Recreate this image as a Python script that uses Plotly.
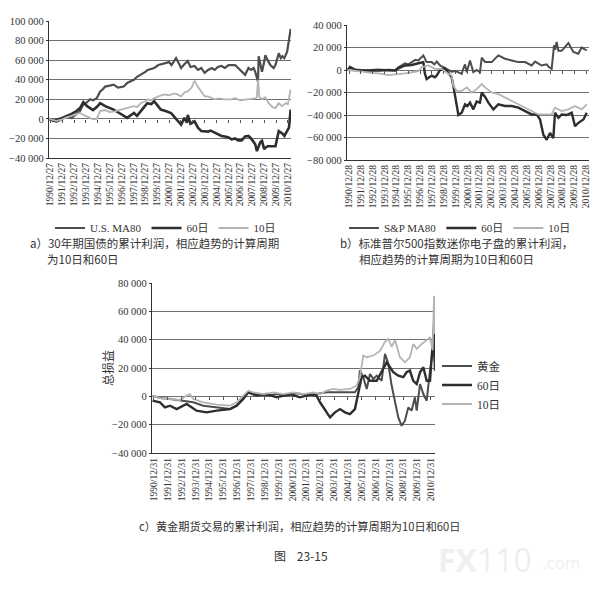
import plotly.graph_objects as go

# ---- panel a: 30-year T-bond, cumulative profit ----
a_ma80_x = [1990.89, 1991.2, 1991.51, 1991.9, 1992.36, 1992.8, 1993.2, 1993.5, 1993.78, 1994.1, 1994.35, 1994.6,
            1994.91, 1995.2, 1995.4, 1995.62, 1996.0, 1996.33, 1996.7, 1997.18, 1997.5, 1998.04, 1998.3, 1998.6,
            1999.0, 1999.2, 1999.74, 2000.1, 2000.59, 2001.0, 2001.2, 2001.58, 2001.8, 2002.01, 2002.3, 2002.57,
            2002.8, 2003.14, 2003.43, 2003.71, 2003.99, 2004.28, 2004.6, 2004.84, 2005.1, 2005.41, 2005.7, 2006.0,
            2006.55, 2006.8, 2007.11, 2007.4, 2007.68, 2007.9, 2008.11, 2008.25, 2008.39, 2008.48, 2008.54, 2008.67,
            2008.82, 2009.0, 2009.1, 2009.3, 2009.52, 2009.8, 2009.95, 2010.23, 2010.4, 2010.53, 2010.7, 2010.94,
            2011.09, 2011.23]
a_ma80_y = [0, -1500, -3000, -1000, 3000, 1000, 5000, 8000, 15000, 17000, 20000, 19000,
            21000, 28000, 30000, 33000, 34000, 35000, 32000, 33000, 37000, 40000, 43000, 45000,
            48000, 50000, 52000, 55000, 57000, 58000, 55000, 62000, 57000, 52000, 56000, 59000,
            53000, 54000, 50000, 52000, 47000, 50000, 52000, 50000, 53000, 54000, 52000, 55000,
            55000, 52000, 48000, 45000, 52000, 50000, 52000, 48000, 42000, 38000, 64000, 55000,
            48000, 58000, 65000, 60000, 55000, 52000, 55000, 67000, 62000, 64000, 62000, 69000,
            79000, 92000]

a_60_x = [1990.89, 1991.3, 1991.8, 1992.36, 1992.8, 1993.2, 1993.5, 1993.78, 1994.1, 1994.35, 1994.6, 1994.91,
          1995.2, 1995.62, 1996.0, 1996.33, 1996.8, 1997.2, 1997.47, 1997.8, 1998.04, 1998.3, 1998.6, 1998.89,
          1999.17, 1999.5, 1999.74, 2000.02, 2000.3, 2000.7, 2001.16, 2001.44, 2001.72, 2002.01, 2002.29, 2002.5,
          2002.57, 2002.8, 2003.14, 2003.43, 2003.71, 2003.99, 2004.28, 2004.5, 2004.84, 2005.1, 2005.41, 2005.7,
          2006.0, 2006.26, 2006.55, 2006.8, 2007.11, 2007.4, 2007.68, 2007.9, 2008.11, 2008.25, 2008.39, 2008.5,
          2008.67, 2008.82, 2009.0, 2009.1, 2009.3, 2009.6, 2009.95, 2010.23, 2010.4, 2010.53, 2010.7, 2010.94,
          2011.09, 2011.23]
a_60_y = [0, -2000, 0, 3000, 5000, 8000, 11000, 17000, 13000, 11000, 9000, 12000,
          16000, 13000, 11000, 9500, 6000, 3000, 1000, 4000, 6000, 3000, 8000, 12000,
          16000, 15000, 18000, 14000, 9500, 8000, 6000, 2000, -2500, -6000, 1000, -4000,
          4000, -5000, -2500, -9000, -12500, -13000, -13000, -12000, -14000, -15000, -17500, -18000,
          -19000, -21000, -20000, -22000, -22000, -18000, -17500, -20000, -24000, -26000, -33000, -30000,
          -24000, -22500, -31000, -29500, -28000, -28000, -28000, -12500, -14000, -15000, -17500, -12000,
          -9000, 9500]

a_10_x = [1990.89, 1991.5, 1992.0, 1992.36, 1992.8, 1993.2, 1993.5, 1993.78, 1994.1, 1994.35, 1994.6, 1994.91,
          1995.2, 1995.6, 1996.0, 1996.33, 1996.8, 1997.18, 1997.6, 1998.04, 1998.3, 1998.6, 1999.0, 1999.17,
          1999.5, 1999.74, 2000.1, 2000.59, 2001.0, 2001.44, 2001.7, 2002.01, 2002.3, 2002.57, 2002.9, 2003.14,
          2003.4, 2003.71, 2003.99, 2004.28, 2004.6, 2004.84, 2005.2, 2005.7, 2006.2, 2006.55, 2007.0, 2007.68,
          2008.0, 2008.25, 2008.39, 2008.48, 2008.6, 2008.82, 2009.1, 2009.38, 2009.7, 2009.95, 2010.23, 2010.5,
          2010.81, 2011.0, 2011.23]
a_10_y = [0, -2000, -500, 1500, 3000, 5000, 6000, 4000, 2000, 1000, -500, 0,
          8000, 9000, 7000, 7500, 9000, 9500, 11000, 13000, 12000, 16000, 18000, 20000,
          19000, 21000, 23000, 25000, 24000, 26000, 25000, 23000, 27000, 28000, 32000, 39000,
          33000, 28000, 23000, 23000, 21000, 20000, 21000, 20000, 20000, 21000, 19000, 20000,
          21000, 21000, 22000, 40000, 22000, 20000, 22000, 16000, 12000, 11000, 16000, 13000,
          16000, 15000, 30000]

# ---- panel b: S&P 500 e-mini ----
b_ma80_x = [1990.89, 1991.08, 1991.51, 1992.07, 1992.5, 1992.91, 1993.48, 1994.0, 1994.6, 1994.88, 1995.16, 1995.73,
            1996.0, 1996.29, 1996.6, 1996.85, 1997.1, 1997.27, 1997.55, 1997.98, 1998.2, 1998.4, 1998.68, 1999.1,
            1999.38, 1999.66, 2000.0, 2000.23, 2000.51, 2000.6, 2000.79, 2000.93, 2001.21, 2001.49, 2001.77, 2002.05,
            2002.2, 2002.48, 2003.04, 2003.6, 2004.16, 2004.73, 2005.29, 2005.85, 2006.41, 2006.7, 2007.12, 2007.26,
            2007.68, 2007.88, 2008.1, 2008.3, 2008.4, 2008.52, 2008.67, 2008.95, 2009.51, 2009.93, 2010.35, 2010.5,
            2010.63, 2010.78, 2011.06]
b_ma80_y = [0, 3000, 500, 0, -500, 0, 500, 0, 0, -500, 2500, 6000,
            5000, 7000, 9000, 8500, 11000, 13000, 7000, 7000, 5000, 7500, 4000, 1500,
            -500, -1500, -1000, -2000, -3500, 0, 5000, -2000, 8500, -2000, 0, -2000,
            11000, 7000, 7000, 13000, 10000, 8500, 7000, 7000, 4000, 7500, 5000, 4000,
            5000, 2500, 1000, 22000, 18000, 25000, 17000, 17000, 24000, 16000, 14500, 18000,
            20000, 19000, 17500]

b_60_x = [1990.89, 1991.08, 1991.51, 1992.07, 1993.48, 1994.32, 1994.88, 1995.16, 1995.73, 1996.29, 1996.85, 1997.27,
          1997.4, 1997.55, 1997.98, 1998.26, 1998.4, 1998.68, 1999.1, 1999.38, 1999.66, 1999.8, 1999.95, 2000.09,
          2000.23, 2000.51, 2000.79, 2001.0, 2001.21, 2001.49, 2001.77, 2002.05, 2002.2, 2002.48, 2002.76, 2003.18,
          2003.6, 2004.16, 2004.73, 2005.29, 2005.85, 2006.41, 2006.84, 2007.12, 2007.4, 2007.68, 2007.96, 2008.24,
          2008.38, 2008.67, 2008.95, 2009.37, 2009.79, 2010.07, 2010.35, 2010.78, 2011.06]
b_60_y = [0, 2000, 0, -500, -500, 0, -500, 1500, 4000, 4500, 6000, 7000,
          -3000, -8000, -5000, -6500, -5000, 0, 1500, -3000, -6500, -14000, -23000, -35000,
          -40000, -38000, -30500, -32000, -29000, -35000, -28000, -29000, -20000, -24000, -29000, -35000,
          -30500, -32000, -32000, -33500, -36500, -39500, -39500, -44000, -57500, -62000, -56000, -60500,
          -38000, -42500, -39500, -40000, -38000, -50000, -47000, -44000, -38000]

b_10_x = [1990.89, 1991.51, 1992.07, 1992.91, 1993.48, 1994.32, 1994.88, 1995.16, 1995.73, 1996.29, 1996.85, 1997.13,
          1997.69, 1998.26, 1998.82, 1999.38, 1999.66, 1999.8, 2000.09, 2000.51, 2000.93, 2001.35, 2001.77, 2002.2,
          2002.48, 2003.04, 2003.6, 2004.16, 2004.73, 2005.29, 2005.85, 2006.41, 2006.98, 2007.54, 2008.1, 2008.38,
          2008.95, 2009.51, 2010.07, 2010.63, 2011.06]
b_10_y = [0, -1000, -1500, -2500, -3000, -4500, -4000, -3500, -3000, -2000, -1000, 2500,
          4000, 1000, 1000, -3500, -4500, -14000, -18500, -18500, -15500, -20000, -17000, -12500,
          -15500, -20000, -21500, -24500, -27500, -30500, -33500, -36500, -39500, -39500, -39500, -33500,
          -36500, -35000, -32000, -35000, -30500]

# ---- panel c: gold futures ----
c_gold_x = [1990.9, 1991.43, 1992.16, 1993.12, 1993.84, 1994.56, 1995.52, 1996.49, 1996.97, 1997.45, 1997.81, 1998.41,
            1999.13, 1999.86, 2000.58, 2001.3, 2002.02, 2002.74, 2003.47, 2004.19, 2004.91, 2005.51, 2005.75, 2005.87,
            2006.11, 2006.36, 2006.6, 2006.84, 2007.08, 2007.44, 2007.68, 2007.92, 2008.16, 2008.4, 2008.64, 2008.88,
            2009.12, 2009.36, 2009.6, 2009.84, 2009.97, 2010.21, 2010.45, 2010.69, 2010.93, 2011.17, 2011.29]
c_gold_y = [500, -1200, -1900, -3000, -4200, -6600, -7800, -9000, -6600, -700, 2800, 1600,
            500, 1600, 500, 2100, 1200, 1600, 2800, 2800, 2800, 2800, 6400, 18300,
            13500, 5200, 15800, 12300, 14600, 11000, 30000, 23000, 7600, -3100, -14900, -20800,
            -17200, -7800, -10100, -700, -10100, 8700, 1600, -3100, 18200, 34700, 23000]

c_60_x = [1990.9, 1991.43, 1991.79, 1992.16, 1992.64, 1993.36, 1994.08, 1994.8, 1995.52, 1996.49, 1996.97, 1997.45,
          1997.81, 1998.41, 1999.13, 1999.86, 2000.82, 2001.54, 2002.26, 2002.74, 2002.99, 2003.23, 2003.47, 2003.71,
          2004.07, 2004.43, 2004.79, 2005.15, 2005.51, 2005.75, 2005.99, 2006.23, 2006.6, 2007.08, 2007.56, 2007.8,
          2008.04, 2008.28, 2008.64, 2009.0, 2009.24, 2009.48, 2009.72, 2009.97, 2010.21, 2010.45, 2010.69, 2010.93,
          2011.05, 2011.22, 2011.29]
c_60_y = [-3000, -4200, -7800, -6600, -9000, -5400, -10100, -11300, -10100, -9000, -6600, -1900,
          2800, 500, 1600, -700, 1600, -700, 1200, 500, -4200, -7800, -11300, -14900,
          -11300, -9000, -11300, -12500, -9000, 2800, 13500, 14600, 11000, 11000, 19500, 24000,
          20500, 17000, 14600, 13500, 17000, 18200, 11000, 8700, 17000, 20500, 11000, 11000,
          27600, 50000, 18000]

c_10_x = [1990.9, 1991.43, 1992.16, 1992.88, 1993.36, 1993.6, 1993.84, 1994.56, 1995.52, 1996.49, 1996.97, 1997.45,
          1997.81, 1998.17, 1998.89, 1999.62, 2000.34, 2001.06, 2001.78, 2002.5, 2002.99, 2003.47, 2003.95, 2004.43,
          2005.15, 2005.63, 2005.87, 2006.11, 2006.36, 2006.84, 2007.32, 2007.68, 2007.92, 2008.16, 2008.4, 2008.76,
          2009.12, 2009.48, 2009.72, 2009.97, 2010.33, 2010.69, 2010.93, 2011.12, 2011.22, 2011.29]
c_10_y = [500, -1200, -1900, -2600, 500, 1600, -1900, -4200, -5900, -6600, -4200, 500,
          4000, 2800, 1600, 2800, 1600, 2800, 1600, 2800, 1600, 4000, 5200, 4500,
          5200, 7500, 13500, 28800, 27600, 28800, 32000, 38500, 40600, 35000, 39700, 27600,
          24000, 27600, 37000, 33500, 37000, 39700, 41800, 32500, 71000, 44000]

# tick labels, one per year
years = list(range(1990, 2011))
tick_pos = [y + 1.0 for y in years]
ticks_a = [f"{y}/12/27" for y in years]
ticks_b = [f"{y}/12/28" for y in years]
ticks_c = [f"{y}/12/31" for y in years]

SERIF = "Liberation Serif, Times New Roman, serif"
CJK = "Noto Sans CJK SC, Liberation Serif, serif"
MID = "#4d4d4d"
DARK = "#2e2e2e"
LIGHT = "#b4b4b4"
GRID = "#707070"

W, H = 611, 590
OFF = 8  # the page body adds an 8px margin around the figure


def px_x(p):
    return (p - OFF) / W


def px_y(p):
    return 1 - (p - OFF) / H


fig = go.Figure()


def add_lines(xa, ya, legend, series):
    for name, xs, ys, color, width in series:
        fig.add_trace(go.Scatter(x=xs, y=ys, name=name, mode="lines", xaxis=xa, yaxis=ya,
                                 legend=legend, line=dict(color=color, width=width)))


add_lines("x", "y", "legend", [
    ("U.S. MA80", a_ma80_x, a_ma80_y, MID, 2.2),
    ("60日", a_60_x, a_60_y, DARK, 2.6),
    ("10日", a_10_x, a_10_y, LIGHT, 1.8),
])
add_lines("x2", "y2", "legend2", [
    ("S&P MA80", b_ma80_x, b_ma80_y, MID, 2.0),
    ("60日", b_60_x, b_60_y, DARK, 2.4),
    ("10日", b_10_x, b_10_y, LIGHT, 1.8),
])
add_lines("x3", "y3", "legend3", [
    ("黄金", c_gold_x, c_gold_y, MID, 2.0),
    ("60日", c_60_x, c_60_y, DARK, 2.4),
    ("10日", c_10_x, c_10_y, LIGHT, 1.8),
])

panels = [
    # x domain px, y domain px (bottom, top), x range, y range, ticks
    ("", (49, 291), (158, 21), (1990.89, 2011.26), (-40000, 100000), ticks_a),
    ("2", (347, 589), (160, 25), (1990.83, 2011.25), (-80000, 40000), ticks_b),
    ("3", (152, 435), (453, 283), (1990.86, 2011.29), (-40000, 80000), ticks_c),
]

layout = {}
for i, (sfx, (x0, x1), (yb, yt), xr, yr, ticks) in enumerate(panels):
    layout["xaxis" + sfx] = dict(
        domain=[px_x(x0), px_x(x1)], range=list(xr), anchor="y" + sfx, automargin=False,
        tickmode="array", tickvals=tick_pos, ticktext=ticks, tickangle=-90,
        showgrid=False, zeroline=False, showline=True, linecolor="#333", linewidth=1.2,
        ticks="", tickfont=dict(family=SERIF, size=9.5, color="#333"),
    )
    layout["yaxis" + sfx] = dict(
        domain=[px_y(yb), px_y(yt)], range=list(yr), anchor="x" + sfx, dtick=20000, automargin=False,
        tickformat=",d", showgrid=True, gridcolor=GRID, gridwidth=1, zeroline=False,
        showline=True, linecolor="#333", linewidth=1.2, ticks="outside", ticklen=2,
        tickcolor="#333", tickfont=dict(family=SERIF, size=10.5, color="#333"),
    )
    # little category ticks sitting on the zero line
    zero_frac = px_y(yb) + (px_y(yt) - px_y(yb)) * (0 - yr[0]) / (yr[1] - yr[0])
    layout["xaxis" + str(4 + i)] = dict(
        overlaying="x" + sfx, anchor="free", position=zero_frac, range=list(xr), automargin=False,
        tickmode="array", tickvals=tick_pos, ticks="outside", ticklen=3, tickcolor="#555",
        showticklabels=False, showgrid=False, zeroline=False, showline=False,
    )

fig.update_layout(**layout)

# dummy traces so the overlay tick axes get drawn
for i in range(3):
    fig.add_trace(go.Scatter(x=[None], y=[None], xaxis="x" + str(4 + i), yaxis=["y", "y2", "y3"][i],
                             showlegend=False, hoverinfo="skip"))

leg_font = dict(family=SERIF + ", Noto Sans CJK SC", size=11, color="#333")
fig.update_layout(
    width=W, height=H, paper_bgcolor="white", plot_bgcolor="white",
    margin=dict(l=0, r=0, t=0, b=0, autoexpand=False), separators=". ",
    legend=dict(orientation="h", x=px_x(50), y=px_y(228), yanchor="middle", xanchor="left",
                font=leg_font, bgcolor="rgba(0,0,0,0)", itemwidth=30),
    legend2=dict(orientation="h", x=px_x(344), y=px_y(228), yanchor="middle", xanchor="left",
                 font=leg_font, bgcolor="rgba(0,0,0,0)", itemwidth=30),
    legend3=dict(orientation="v", x=px_x(437), y=px_y(385), yanchor="middle", xanchor="left",
                 font=dict(family=SERIF + ", Noto Sans CJK SC", size=11.5, color="#333"),
                 bgcolor="rgba(0,0,0,0)", itemwidth=30, tracegroupgap=0),
)

captions = [
    ("a）30年期国债的累计利润，相应趋势的计算周期", 28, 243, 11.5),
    ("为10日和60日", 45, 259, 11.5),
    ("b）标准普尔500指数迷你电子盘的累计利润，", 338, 243, 11.5),
    ("相应趋势的计算周期为10日和60日", 357, 259, 11.5),
    ("c）黄金期货交易的累计利润，相应趋势的计算周期为10日和60日", 137, 526, 11.2),
    ("图    23-15", 272, 555, 12),
]
for text, x, y, size in captions:
    fig.add_annotation(text=text, x=px_x(x), y=px_y(y), xref="paper", yref="paper",
                       xanchor="left", yanchor="middle", showarrow=False,
                       font=dict(family=CJK, size=size, color="#333"))

fig.add_annotation(text="总损益", x=px_x(107), y=px_y(368), xref="paper", yref="paper",
                   xanchor="center", yanchor="middle", textangle=-90, showarrow=False,
                   font=dict(family=CJK, size=12, color="#333"))

# faint watermark of the scan
fig.add_annotation(text="<b>FX</b>110", x=px_x(436), y=px_y(536), xref="paper", yref="paper",
                   xanchor="left", yanchor="top", showarrow=False,
                   font=dict(family="Open Sans, sans-serif", size=32, color="#efefef"))
fig.add_annotation(text=".com", x=px_x(540), y=px_y(549), xref="paper", yref="paper",
                   xanchor="left", yanchor="top", showarrow=False,
                   font=dict(family="Open Sans, sans-serif", size=17, color="#efefef"))

fig.write_html("out.html")
